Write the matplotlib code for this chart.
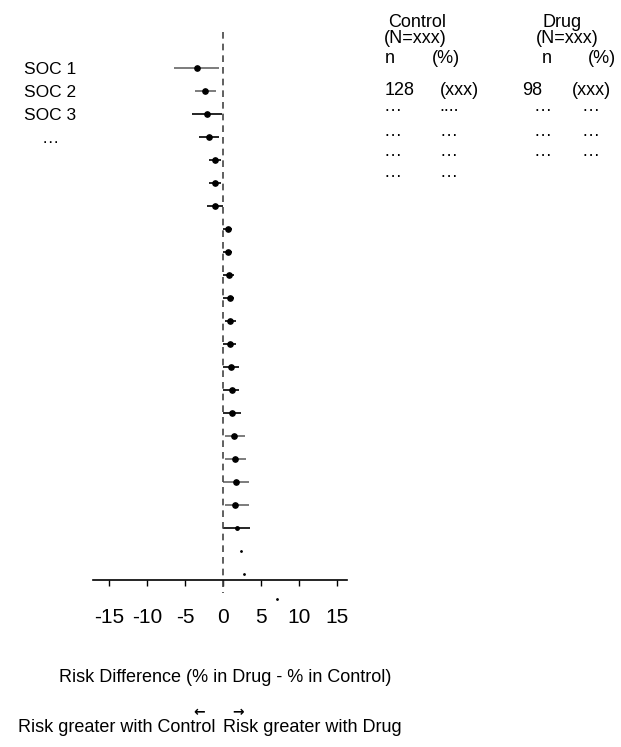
import numpy as np
import matplotlib
matplotlib.use('Agg')
from matplotlib import pyplot as plt

plt.rcParams['font.family'] = ['Liberation Sans', 'DejaVu Sans']

# risk difference per row (Drug - Control), with CI
est = [-3.4, -2.4, -2.1, -1.8, -1.1, -1.1, -1.1,
       0.6, 0.6, 0.75, 0.85, 0.9, 0.95, 1.05, 1.15, 1.2,
       1.5, 1.6, 1.7, 1.55, 1.8]
lo = [-6.4, -3.7, -4.1, -3.2, -1.8, -1.8, -2.1,
      0.05, 0.05, 0.05, 0.05, 0.25, 0.05, 0.05, 0.05, 0.0,
      0.2, 0.3, 0.05, 0.3, 0.0]
hi = [-0.5, -0.9, -0.1, -0.5, -0.3, -0.3, 0.0,
      1.2, 1.2, 1.45, 1.5, 1.65, 1.75, 2.05, 2.15, 2.4,
      2.85, 3.0, 3.4, 3.4, 3.6]
# stray points without interval
extra_est = [2.3, 2.7, 7.1]
extra_row = [21, 22, 23.1]

soc_labels = ['SOC 1', 'SOC 2', 'SOC 3', '\u2026']
xticks = [-15, -10, -5, 0, 5, 10, 15]

ctrl_n = ['128', '\u2026', '\u2026', '\u2026', '\u2026']
ctrl_pct = ['(xxx)', '....', '\u2026', '\u2026', '\u2026']
drug_n = ['98', '\u2026', '\u2026', '\u2026']
drug_pct = ['(xxx)', '\u2026', '\u2026', '\u2026']

gray_rows = [0, 1, 16, 17, 18, 19]

W, H = 621, 747
fig = plt.figure(figsize=(W / 100, H / 100), dpi=100)

# axes in pixel terms: x 93..347, y 32..580
ax = fig.add_axes([93 / W, 1 - 580 / H, 254 / W, 548 / H])
ax.set_xlim(-17.1, 16.3)
ax.set_ylim(22.26, -1.565)

rows = np.arange(len(est))
for i in rows:
    c = '#666666' if i in gray_rows else 'black'
    ax.plot([lo[i], hi[i]], [i, i], color=c, lw=1.2, solid_capstyle='butt')
ms = [3.8] * 20 + [2.5]
for i in rows:
    ax.plot(est[i], i, 'o', color='black', ms=ms[i])
ax.plot(extra_est, extra_row, 'o', color='black', ms=1, clip_on=False)

ax.plot([0, 0], [-1.565, 22.83], color='#444444', lw=1.2,
        ls=(0, (4, 3)), clip_on=False)

for s in ['top', 'right', 'left']:
    ax.spines[s].set_visible(False)
ax.spines['bottom'].set_linewidth(1.2)
ax.set_xticks(xticks)
ax.set_xticklabels([str(t) for t in xticks], fontsize=15)
ax.tick_params(axis='x', length=4, width=1, pad=16)
ax.set_yticks(range(len(soc_labels)))
ax.set_yticklabels(soc_labels, fontsize=12.5, ha='center')
ax.tick_params(axis='y', length=0, pad=31)


def ftxt(x, y, s, **kw):
    kw.setdefault('fontsize', 13)
    kw.setdefault('va', 'baseline')
    fig.text(x / W, 1 - y / H, s, **kw)


# table header
ftxt(417, 27, 'Control', ha='center')
ftxt(415, 43, '(N=xxx)', ha='center')
ftxt(385, 63, 'n')
ftxt(432, 63, '(%)')
ftxt(562, 27, 'Drug', ha='center')
ftxt(567, 43, '(N=xxx)', ha='center')
ftxt(542, 63, 'n')
ftxt(588, 63, '(%)')

row_y = [95, 111, 136, 156, 177]
for k, s in enumerate(ctrl_n):
    ftxt(385 if k == 0 else 383, row_y[k], s)
for k, s in enumerate(ctrl_pct):
    ftxt(440 if k == 0 else 439, row_y[k], s)
for k, s in enumerate(drug_n):
    ftxt(522 if k == 0 else 534, row_y[k], s)
for k, s in enumerate(drug_pct):
    ftxt(572 if k == 0 else 582, row_y[k], s)

# bottom captions
ftxt(225, 682, 'Risk Difference (% in Drug - % in Control)', ha='center')
ftxt(199, 712, '\u2190', ha='center', va='center', fontsize=10,
     family='DejaVu Sans', fontweight='bold')
ftxt(238, 712, '\u2192', ha='center', va='center', fontsize=10,
     family='DejaVu Sans', fontweight='bold')
ftxt(215, 732, 'Risk greater with Control', ha='right')
ftxt(223, 732, 'Risk greater with Drug', ha='left')

fig.savefig('out.png', dpi=100)
